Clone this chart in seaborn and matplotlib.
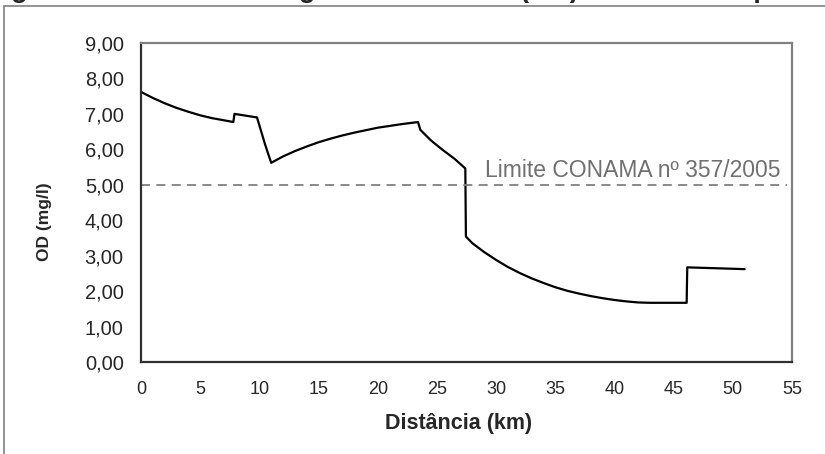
import matplotlib
matplotlib.use("Agg")
import matplotlib.pyplot as plt
from matplotlib import font_manager
from matplotlib.patches import Rectangle
import pandas as pd
import seaborn as sns

# Dissolved oxygen profile along the river (km, mg/l)
distancia_km = [0.0, 1.0, 2.0, 3.0, 4.0, 5.0, 6.0, 7.0, 7.8,
                7.9, 9.8,
                10.5, 11.0,
                12.0, 13.0, 14.0, 15.0, 16.0, 17.0, 18.0, 19.0, 20.0, 21.0, 22.0, 23.4,
                23.6, 24.5, 25.5, 26.5, 27.4,
                27.45,
                28.0, 29.0, 30.0, 31.0, 32.0, 33.0, 34.0, 35.0, 36.0, 37.0, 38.0,
                39.0, 40.0, 41.0, 42.0, 43.0, 46.1,
                46.15, 51.0]
od_mgl = [7.62, 7.45, 7.30, 7.17, 7.06, 6.96, 6.88, 6.82, 6.77,
          7.00, 6.90,
          6.12, 5.62,
          5.80, 5.95, 6.08, 6.20, 6.30, 6.39, 6.47, 6.54, 6.61, 6.66, 6.71, 6.77,
          6.55, 6.25, 5.98, 5.73, 5.46,
          3.54,
          3.35, 3.10, 2.88, 2.68, 2.51, 2.36, 2.23, 2.11, 2.01, 1.93, 1.86,
          1.80, 1.75, 1.71, 1.68, 1.67, 1.67,
          2.67, 2.62]

limite_conama = 5.0
limite_texto = "Limite CONAMA nº 357/2005"
titulo_inicio = "Figura 4.3 – Perfil de oxigênio dissolvido "
titulo_fim = "(OD) no cenário 1 para o rio"
y_ticks = [0, 1, 2, 3, 4, 5, 6, 7, 8, 9]
y_tick_labels = ["0,00", "1,00", "2,00", "3,00", "4,00", "5,00", "6,00", "7,00", "8,00", "9,00"]
x_ticks = [0, 5, 10, 15, 20, 25, 30, 35, 40, 45, 50, 55]

sns.set_style("white")
available = {f.name for f in font_manager.fontManager.ttflist}
base_font = "Liberation Sans" if "Liberation Sans" in available else "DejaVu Sans"
plt.rcParams["font.family"] = [base_font, "DejaVu Sans"]

W, H = 825, 454
fig = plt.figure(figsize=(W / 100, H / 100), dpi=100)
fig.patch.set_facecolor("white")

# outer chart frame
fig.add_artist(Rectangle((4 / W, -0.05), 1.2, 1 - 6 / H + 0.05, transform=fig.transFigure,
                         fill=False, edgecolor="#808080", linewidth=1.2))

x0, x1, y0, y1 = 141, 792, 362, 43
ax = fig.add_axes([x0 / W, 1 - y0 / H, (x1 - x0) / W, (y0 - y1) / H])
ax.set_facecolor("white")

df = pd.DataFrame({"km": distancia_km, "od": od_mgl})
sns.lineplot(data=df, x="km", y="od", sort=False, estimator=None,
             color="black", linewidth=1.6, ax=ax)

ax.plot([0, 54.6], [limite_conama, limite_conama], color="#808080",
        linewidth=1.3, dashes=(5, 3.5))
ax.text(29.05, limite_conama + 0.22, limite_texto, color="#707070",
        fontsize=16.5, ha="left", va="baseline")

ax.set_xlim(0, 55)
ax.set_ylim(0, 9)
ax.set_xticks(x_ticks)
ax.set_xticklabels([str(v) for v in x_ticks], fontsize=13)
ax.set_yticks(y_ticks)
ax.set_yticklabels(y_tick_labels, fontsize=14.5)
ax.tick_params(axis="both", direction="inout", length=9, width=1.0, color="#303030")
ax.tick_params(axis="x", pad=9)
ax.tick_params(axis="y", pad=8)
ax.set_xlabel("")
ax.set_ylabel("")

for side in ("left", "bottom"):
    ax.spines[side].set_color("#303030")
    ax.spines[side].set_linewidth(1.6)
for side in ("top", "right"):
    ax.spines[side].set_color("#808080")
    ax.spines[side].set_linewidth(1.6)

fig.text(459 / W, 1 - 424 / H, "Distância (km)", fontsize=15.5, fontweight="bold",
         ha="center", va="center")
fig.text(44 / W, 1 - 222 / H, "OD (mg/l)", fontsize=12.5, fontweight="bold",
         rotation=90, ha="center", va="center")

# caption running off the top edge; the "(OD)" part starts at x = 520 px
title_props = dict(fontsize=19.5, fontweight="bold", va="baseline", ha="left")
renderer = fig.canvas.get_renderer()
probe = fig.text(0, 0, titulo_inicio.replace(" ", "\u00a0"), **title_props)
prefix_w = probe.get_window_extent(renderer).width
probe.remove()
fig.text((520 - prefix_w) / W, 1 + 3.0 / H, titulo_inicio + titulo_fim, **title_props)

fig.savefig("out.png", dpi=100)
